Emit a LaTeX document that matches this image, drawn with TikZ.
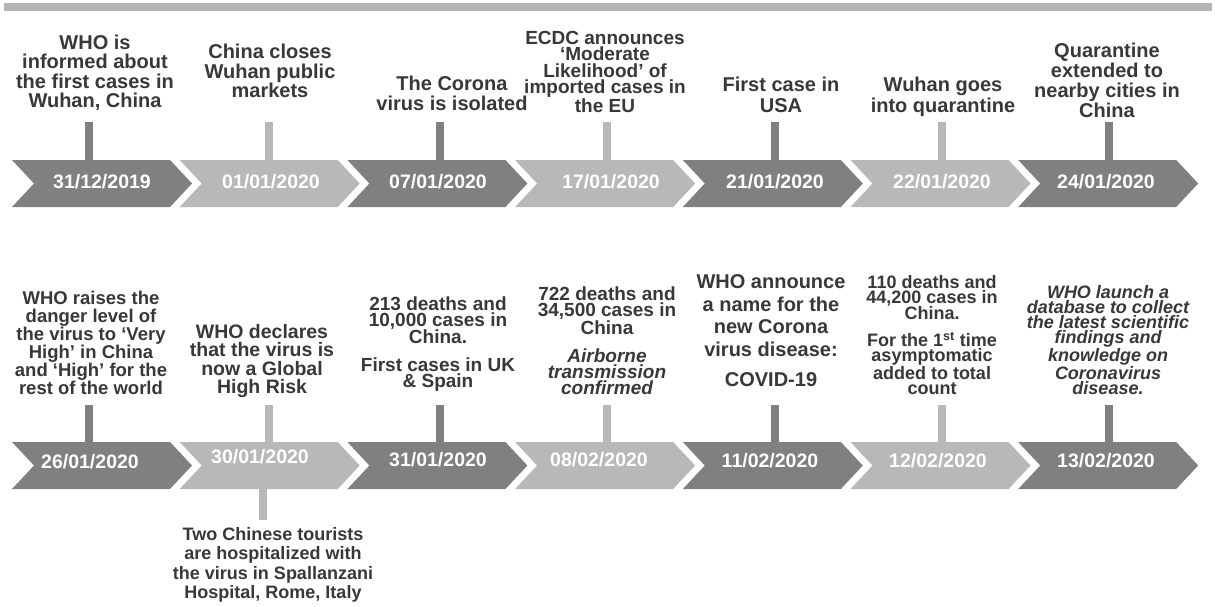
\documentclass[tikz,border=0pt]{standalone}
\usepackage{fontspec}
\setmainfont{Liberation Sans}
\definecolor{dk}{HTML}{808080}
\definecolor{lt}{HTML}{B8B8B8}
\definecolor{txt}{HTML}{383838}
\definecolor{topbar}{HTML}{B4B4B4}
\newcommand\chevshape[3]{%
  \fill[#3] (#1,#2) -- ++(158,0) -- ++(22,23.5) -- ++(-22,23.5) -- ++(-158,0) -- ++(22,-23.5) -- cycle;}
\tikzset{
  datetxt/.style={text=white, font=\bfseries\fontsize{19.5}{20}\selectfont, inner sep=0pt},
  evtxt/.style={text=txt, align=center, inner sep=0pt},
  stemdk/.style={draw=dk, line width=8pt},
  stemlt/.style={draw=lt, line width=8pt},
}
\begin{document}
\begin{tikzpicture}[x=1pt,y=-1pt]
\useasboundingbox[fill=white] (0,0) rectangle (1215,606);
% top bar
\fill[topbar] (4,3) rectangle (1212,11);
% chevrons row 1 and row 2
\foreach \i/\c in {0/dk,1/lt,2/dk,3/lt,4/dk,5/lt,6/dk}{
  \chevshape{12+167.7*\i}{160}{\c}
  \chevshape{12+167.7*\i}{442}{\c}
}
% dates row 1
\node[datetxt] (d1) at (102,182) {31/12/2019};
\node[datetxt] (d2) at (271,182) {01/01/2020};
\node[datetxt] (d3) at (438,182) {07/01/2020};
\node[datetxt] (d4) at (611,182) {17/01/2020};
\node[datetxt] (d5) at (775,182) {21/01/2020};
\node[datetxt] (d6) at (942,182) {22/01/2020};
\node[datetxt] (d7) at (1106,182) {24/01/2020};
% dates row 2
\node[datetxt] (e1) at (90,462) {26/01/2020};
\node[datetxt] (e2) at (260,457) {30/01/2020};
\node[datetxt] (e3) at (438,460) {31/01/2020};
\node[datetxt] (e4) at (599,460) {08/02/2020};
\node[datetxt] (e5) at (770,461) {11/02/2020};
\node[datetxt] (e6) at (938,461) {12/02/2020};
\node[datetxt] (e7) at (1106,461) {13/02/2020};
% stems row 1
\foreach \x/\s [count=\k] in {89/stemdk,269/stemlt,440/stemdk,607/stemlt,775/stemdk,942/stemlt,1109/stemdk}{
  \coordinate (a\k) at (\x,122);
  \coordinate (b\k) at (\x,160);
  \draw[\s] (a\k) -- (b\k);
  \coordinate (p\k) at (\x,405);
  \coordinate (q\k) at (\x,442);
  \draw[\s] (p\k) -- (q\k);
}
\coordinate (bs1) at (263,489);
\coordinate (bs2) at (263,520);
\draw[stemlt] (bs1) -- (bs2);
% events row 1
\node[evtxt, font=\bfseries\fontsize{20}{19.5}\selectfont] (t1) at (95,73) {WHO is\\informed about\\the first cases in\\Wuhan, China};
\node[evtxt, font=\bfseries\fontsize{20}{19.5}\selectfont] (t2) at (270,71) {China closes\\Wuhan public\\markets};
\node[evtxt, font=\bfseries\fontsize{20}{20}\selectfont] (t3) at (452,93) {The Corona\\virus is isolated};
\node[evtxt, font=\bfseries\fontsize{19}{16.5}\selectfont] (t4) at (605,72) {ECDC announces\\‘Moderate\\Likelihood’ of\\imported cases in\\the EU};
\node[evtxt, font=\bfseries\fontsize{20}{21}\selectfont] (t5) at (781,95) {First case in\\USA};
\node[evtxt, font=\bfseries\fontsize{20}{20.5}\selectfont] (t6) at (943,97) {Wuhan goes\\into quarantine};
\node[evtxt, font=\bfseries\fontsize{20}{20}\selectfont] (t7) at (1107,80) {Quarantine\\extended to\\nearby cities in\\China};
% events row 2
\node[evtxt, font=\bfseries\fontsize{18.5}{18}\selectfont] (u1) at (91,343) {WHO raises the\\danger level of\\the virus to ‘Very\\High’ in China\\and ‘High’ for the\\rest of the world};
\node[evtxt, font=\bfseries\fontsize{19.5}{18.5}\selectfont] (u2) at (262,361) {WHO declares\\that the virus is\\now a Global\\High Risk};
\node[evtxt, font=\bfseries\fontsize{19}{16}\selectfont] (u3) at (438,344) {213 deaths and\\10,000 cases in\\China.\\[12pt]First cases in UK\\\& Spain};
\node[evtxt, font=\bfseries\fontsize{19}{16}\selectfont] (u4) at (607,341) {722 deaths and\\34,500 cases in\\China\\[12pt]{\itshape Airborne}\\{\itshape transmission}\\{\itshape confirmed}};
\node[evtxt, font=\bfseries\fontsize{20}{22.5}\selectfont] (u5) at (771,331) {WHO announce\\a name for the\\new Corona\\virus disease:\\[8pt]COVID-19};
\node[evtxt, font=\bfseries\fontsize{18}{15}\selectfont] (u6) at (932,335) {110 deaths and\\44,200 cases in\\China.\\[12pt]For the 1\textsuperscript{st} time\\asymptomatic\\added to total\\count};
\node[evtxt, font=\bfseries\itshape\fontsize{18}{15.2}\selectfont] (u7) at (1108,340) {WHO launch a\\database to collect\\the latest scientific\\findings and\\knowledge on\\Coronavirus\\disease.};
% bottom event
\node[evtxt, font=\bfseries\fontsize{18}{19.5}\selectfont] (w1) at (273,565) {Two Chinese tourists\\are hospitalized with\\the virus in Spallanzani\\Hospital, Rome, Italy};
\end{tikzpicture}
\end{document}
